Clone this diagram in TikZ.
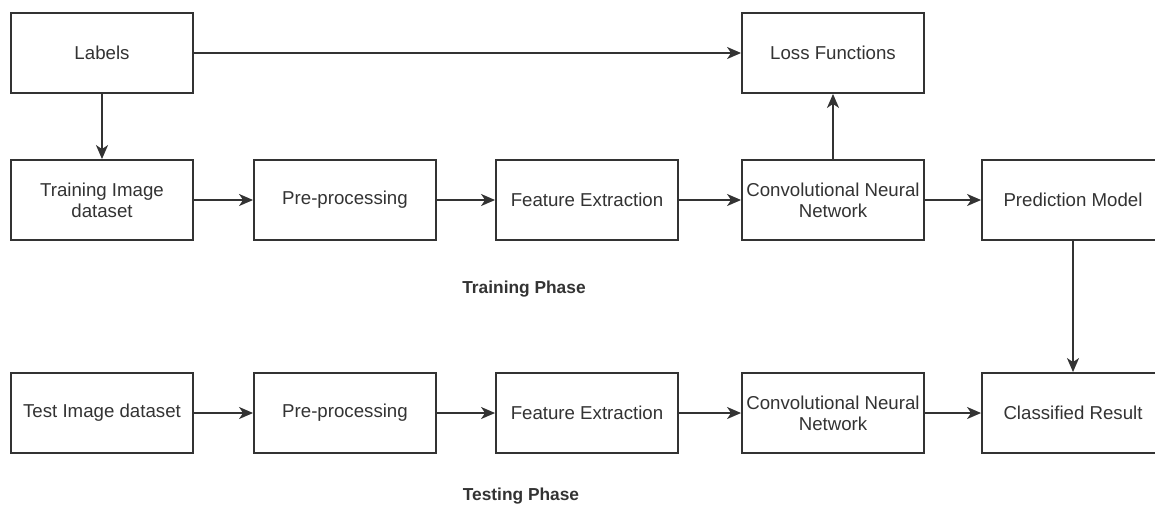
\documentclass[tikz,border=0pt]{standalone}
\usepackage{fontspec}
\setmainfont{Liberation Sans}
\usetikzlibrary{arrows.meta}
\definecolor{ink}{HTML}{333333}
\tikzset{
  box/.style={draw=ink, line width=1.4pt, fill=white, minimum width=136.5pt, minimum height=60pt,
    inner sep=1pt, align=center, text=ink, font=\fontsize{14}{15.5}\selectfont},
  conn/.style={draw=ink, line width=1.4pt, -{Stealth[length=10.5pt,width=9pt,inset=3pt]}},
  phase/.style={text=ink, font=\fontsize{13}{15}\selectfont\bfseries}
}
\begin{document}
\begin{tikzpicture}[x=0.75pt,y=-0.75pt]
\useasboundingbox (0,0) rectangle (1155,508);
\node[box] (lab) at (102,53) {Labels};
\node[box] (loss) at (833,53) {Loss Functions};
\node[box] (tid) at (102,200) {Training Image\\dataset};
\node[box] (pre1) at (345,200) {Pre-processing};
\node[box] (fe1) at (587,200) {Feature Extraction};
\node[box] (cnn1) at (833,200) {Convolutional Neural\\Network};
\node[box] (pm) at (1073,200) {Prediction Model};
\node[box] (test) at (102,413) {Test Image dataset};
\node[box] (pre2) at (345,413) {Pre-processing};
\node[box] (fe2) at (587,413) {Feature Extraction};
\node[box] (cnn2) at (833,413) {Convolutional Neural\\Network};
\node[box] (cr) at (1073,413) {Classified Result};
\node[phase] (trp) at (524,289) {Training Phase};
\node[phase] (tsp) at (521,496) {Testing Phase};
\draw[conn] (lab) -- (loss);
\draw[conn] (lab) -- (tid);
\draw[conn] (tid) -- (pre1);
\draw[conn] (pre1) -- (fe1);
\draw[conn] (fe1) -- (cnn1);
\draw[conn] (cnn1) -- (pm);
\draw[conn] (cnn1) -- (loss);
\draw[conn] (pm) -- (cr);
\draw[conn] (test) -- (pre2);
\draw[conn] (pre2) -- (fe2);
\draw[conn] (fe2) -- (cnn2);
\draw[conn] (cnn2) -- (cr);
\end{tikzpicture}
\end{document}
